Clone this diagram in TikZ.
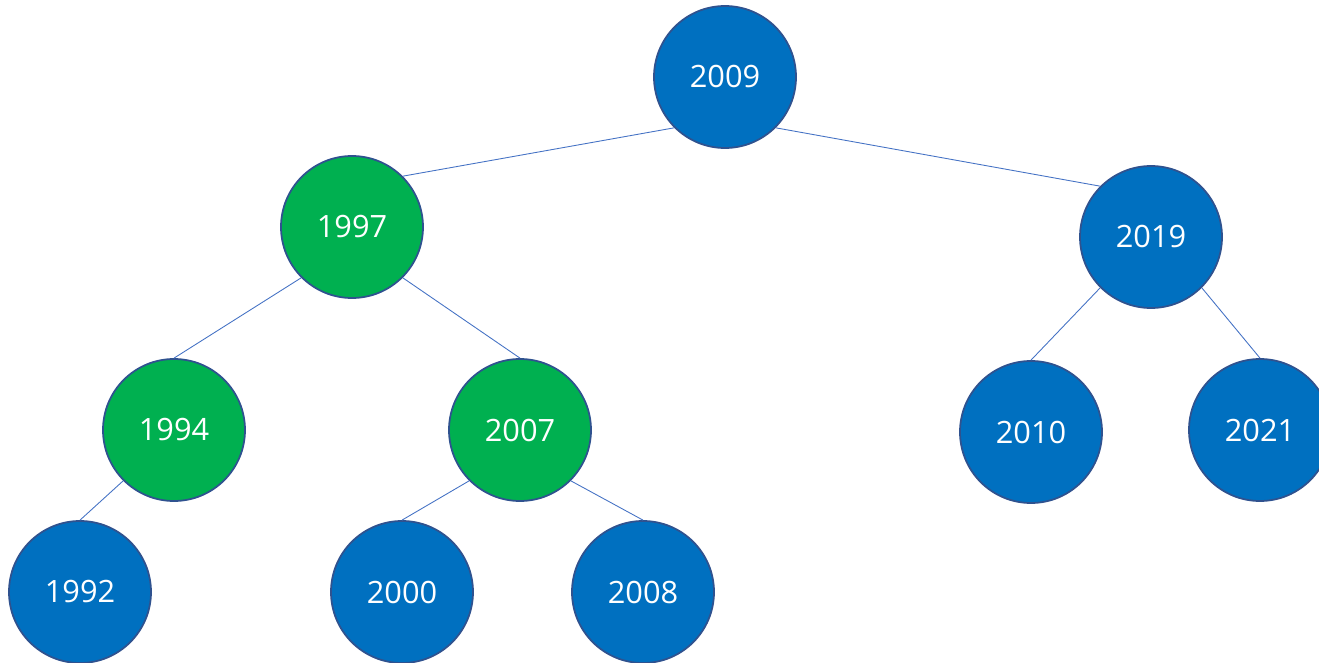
\documentclass[tikz,border=0pt]{standalone}
\usepackage{fontspec}
\setmainfont{Open Sans}
\usepackage{xcolor}
\usepackage{tikz}
\usetikzlibrary{positioning}
\definecolor{yearblue}{HTML}{0070C0}
\definecolor{yeargreen}{HTML}{00B050}
\definecolor{rimblue}{HTML}{2F528F}
\definecolor{edgeblue}{HTML}{4472C4}

\begin{document}
\begin{tikzpicture}[transform shape,scale=1,
	year/.style={circle,draw=rimblue,line width=1pt,minimum size=2.84cm,inner sep=0pt,text=white,font=\fontsize{17.5}{20}\selectfont},
	bluey/.style={year,fill=yearblue},
	greeny/.style={year,fill=yeargreen},
	edge/.style={draw=edgeblue,line width=0.5pt}]
	\useasboundingbox (0,0) rectangle (26.38,13.24);
	\node[bluey] (y2009) at (14.5,11.7) {2009};
	\node[greeny] (y1997) at (7.04,8.7) {1997};
	\node[bluey] (y2019) at (23.02,8.5) {2019};
	\node[greeny] (y1994) at (3.48,4.64) {1994};
	\node[greeny] (y2007) at (10.4,4.64) {2007};
	\node[bluey] (y2010) at (20.62,4.6) {2010};
	\node[bluey] (y2021) at (25.2,4.64) {2021};
	\node[bluey] (y1992) at (1.6,1.4) {1992};
	\node[bluey] (y2000) at (8.04,1.4) {2000};
	\node[bluey] (y2008) at (12.86,1.4) {2008};
	\draw[edge](y2009.south west)--(y1997.north east);
	\draw[edge](y2009.south east)--(y2019.north west);
	\draw[edge](y1997.south west)--(y1994.north);
	\draw[edge](y1997.south east)--(y2007.north);
	\draw[edge](y2019.south west)--(y2010.north);
	\draw[edge](y2019.south east)--(y2021.north);
	\draw[edge](y1994.south west)--(y1992.north);
	\draw[edge](y2007.south west)--(y2000.north);
	\draw[edge](y2007.south east)--(y2008.north);
\end{tikzpicture}
\end{document}
